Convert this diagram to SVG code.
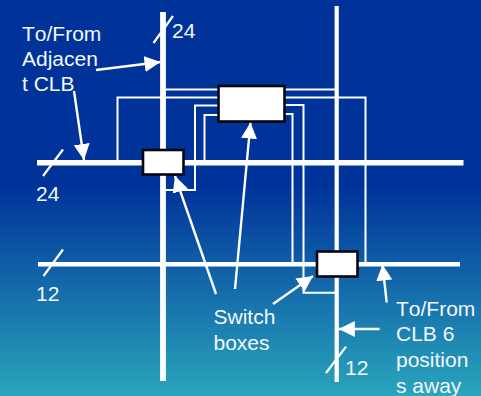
<svg xmlns="http://www.w3.org/2000/svg" width="481" height="396" viewBox="0 0 481 396">
<style>
text{font-family:"Liberation Sans",Arial,sans-serif;font-size:21px;font-kerning:none;fill:#f4f8fc}
.w{stroke:#fff;fill:none}
.t1{stroke-width:2}
.t2{stroke-width:2.2}
.a{stroke-width:2.400;marker-end:url(#ah)}
.box{fill:#fff;stroke:#05050f;stroke-width:2.600}
</style>
<defs>
<linearGradient id="bg" x1="0" y1="0" x2="0" y2="1">
<stop offset="0" stop-color="#003399"/>
<stop offset="0.47" stop-color="#003399"/>
<stop offset="1" stop-color="#2aa5bc"/>
</linearGradient>
<marker id="ah" markerUnits="userSpaceOnUse" markerWidth="18" markerHeight="18" refX="16" refY="8" orient="auto">
<path d="M0 0L16 8L0 16Z" fill="#fff"/>
</marker>
</defs>
<rect width="481" height="396" fill="url(#bg)"/>
<g id="connectors">
<path class="w" stroke-width="5.8" d="M163 12V381"/>
<path class="w" stroke-width="5.6" d="M37 162.700H463.500"/>
<path class="w" stroke-width="4.400" d="M38 264.300H460"/>
<path class="w" stroke-width="4.200" d="M336.700 6V382"/>
<path class="w t1" d="M166 89.500H218M117.500 160V97.500H218M166 190H195V105.500H218M204.500 160V115H218"/>
<path class="w t1" d="M285 89.500H335M285 97.500H365.500V263M285 105H303.500V292.700H336M285 114H292.500V264"/>
<path class="w t2" d="M153.500 43L173 16M43 176L63 149.500M43.500 276L63 249.500M326 373L346 346.700"/>
<path class="w a" d="M96 70L160.500 62"/>
<path class="w a" d="M74 91L84 160"/>
<path class="w a" d="M216 294L175 176"/>
<path class="w a" d="M235 289L250.500 122.500"/>
<path class="w a" d="M273 304L313 276"/>
<path class="w a" d="M386.700 302.500L382.500 264.500"/>
<path class="w a" d="M379.600 329H338.800"/>
</g>
<g id="switch-box-1"><rect class="box" x="143" y="150" width="40.500" height="24.500"/></g>
<g id="switch-box-2"><rect class="box" x="218.500" y="86" width="66" height="35.500"/></g>
<g id="switch-box-3"><rect class="box" x="317" y="251.500" width="40.500" height="25"/></g>
<g id="labels">
<text x="22" y="40.500">To/From</text>
<text x="22" y="65.500">Adjacen</text>
<text x="22" y="91">t CLB</text>
<text x="172" y="38">24</text>
<text x="36" y="201">24</text>
<text x="36" y="301">12</text>
<text x="213.500" y="324">Switch</text>
<text x="213.500" y="350">boxes</text>
<text x="345" y="374.500">12</text>
<text x="396" y="316">To/From</text>
<text x="396" y="341">CLB 6</text>
<text x="396" y="367">position</text>
<text x="396" y="392.500">s away</text>
</g>
</svg>
